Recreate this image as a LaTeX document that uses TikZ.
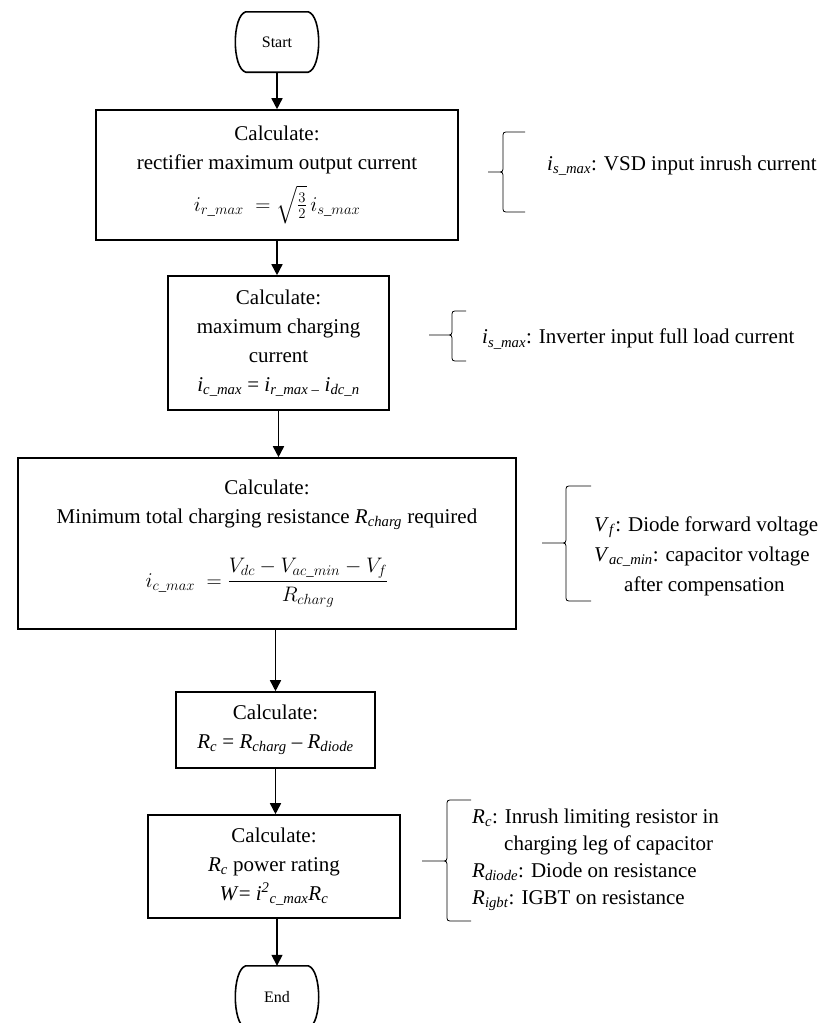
\RequirePackage{fix-cm}
\documentclass[tikz,border=0pt]{standalone}
\usepackage{amsmath}
\usepackage{fontspec}
\setmainfont{Liberation Serif}
\usetikzlibrary{arrows.meta,calc}
\newcommand{\vi}[2]{\textit{#1}\textsubscript{\textit{#2}}}
\newcommand{\termoutline}[1]{%
  \draw[line width=1.6pt] (#1.north west) -- (#1.north east)
    .. controls ($(#1.north east)+(14pt,-4pt)$) and ($(#1.south east)+(14pt,4pt)$) .. (#1.south east)
    -- (#1.south west)
    .. controls ($(#1.south west)+(-14pt,4pt)$) and ($(#1.north west)+(-14pt,-4pt)$) .. cycle;}
% #1 arm x, #2 stem x, #3 tip x, #4 top y, #5 tip y, #6 bottom y
\newcommand{\sidebrace}[6]{%
  \draw[bracel] (#1,#4) -- ({#2+6},#4) .. controls (#2,#4) .. (#2,{#4+6})
    -- (#2,{#5-6}) .. controls (#2,#5) .. ({#2-6},#5) -- (#3,#5)
    -- ({#2-6},#5) .. controls (#2,#5) .. (#2,{#5+6})
    -- (#2,{#6-6}) .. controls (#2,#6) .. ({#2+6},#6) -- (#1,#6);}
\tikzset{
  box/.style={draw, line width=1.6pt, align=center, inner sep=0pt, font=\fontsize{21}{29}\selectfont},
  term/.style={draw=none, minimum width=62pt, minimum height=60pt, inner sep=0pt, font=\fontsize{16}{19}\selectfont},
  flow/.style={line width=1.6pt, -{Triangle[length=11pt,width=11pt]}},
  side/.style={align=left, anchor=west, inner sep=0pt, font=\fontsize{21}{27}\selectfont},
  bracel/.style={line width=0.8pt},
}
\begin{document}
\begin{tikzpicture}[x=1pt,y=-1pt]
\useasboundingbox (0,0) rectangle (819,1023);
\fill[white] (0,0) rectangle (819,1023);

\node[term] (start) at (277,42) {Start};
\termoutline{start}

\node[box, minimum width=362pt, minimum height=130pt] (b1) at (277,175)
  {Calculate:\\ rectifier maximum output current\\[10pt] $i_{r\_max}\;=\sqrt{\frac{3}{2}}\,i_{s\_max}$};

\node[box, minimum width=221pt, minimum height=134pt] (b2) at (278.5,343)
  {Calculate:\\ maximum charging\\ current\\ \vi{i}{c\_max} = \vi{i}{r\_max --} \vi{i}{dc\_n}};

\node[box, minimum width=498pt, minimum height=171pt] (b3) at (267,543.5)
  {Calculate:\\ Minimum total charging resistance \vi{R}{charg} required\\[28pt]
   $i_{c\_max}\;=\dfrac{V_{dc}-V_{ac\_min}-V_f}{R_{charg}}$};

\node[box, minimum width=199pt, minimum height=76pt] (b4) at (275.5,730)
  {Calculate:\\ \vi{R}{c} = \vi{R}{charg} -- \vi{R}{diode}};

\node[box, minimum width=252pt, minimum height=103pt] (b5) at (274,866.5)
  {Calculate:\\ \vi{R}{c} power rating\\ \textit{W}= \textit{i}\textsuperscript{\textit{2}}\textsubscript{\textit{c\_max}}\vi{R}{c}};

\node[term, minimum height=62pt] (end) at (277,997) {End};
\termoutline{end}

\draw[flow] (start.south) -- (start.south |- b1.north);
\draw[flow] (b1.south) -- (b1.south |- b2.north);
\draw[flow] (b2.south) -- (b2.south |- b3.north);
\draw[flow] (b4.north |- b3.south) -- (b4.north);
\draw[flow] (b4.south) -- (b4.south |- b5.north);
\draw[flow] (end.north |- b5.south) -- (end.north);

\sidebrace{525}{503}{488}{132}{172}{212}
\node[side] (n1) at (547,166) {\vi{i}{s\_max}: VSD input inrush current};

\sidebrace{466}{452}{429}{311}{335}{361}
\node[side] (n2) at (482,339) {\vi{i}{s\_max}: Inverter input full load current};

\sidebrace{591}{566}{542}{486}{543}{601}
\node[side, font=\fontsize{21}{30}\selectfont] (n3) at (594,556)
  {\vi{V}{f}: Diode forward voltage\\ \vi{V}{ac\_min}: capacitor voltage\\ \hspace*{30pt}after compensation};

\sidebrace{471}{447}{422}{800}{861}{921}
\node[side] (n4) at (472,860)
  {\vi{R}{c}: Inrush limiting resistor in\\ \hspace*{32pt}charging leg of capacitor\\ \vi{R}{diode}: Diode on resistance\\ \vi{R}{igbt}: IGBT on resistance};
\end{tikzpicture}
\end{document}
